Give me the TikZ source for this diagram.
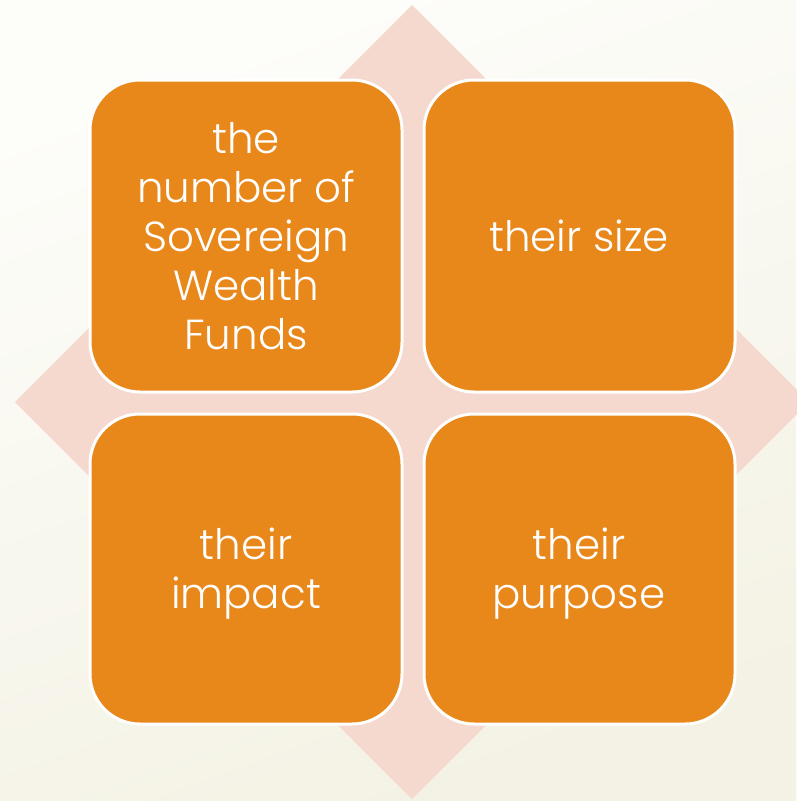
\documentclass[tikz,border=0pt]{standalone}
\usepackage{fontspec}
\setmainfont{Poppins Light}
\begin{document}
\begin{tikzpicture}[x=1pt,y=-1pt,
  tile/.style={fill=tileorange,draw=white,line width=3pt,rounded corners=50pt},
  tiletext/.style={text=white,align=center,font=\fontsize{42}{49}\selectfont}]
\definecolor{tileorange}{HTML}{E8871A}
\definecolor{diamondpink}{HTML}{F5D8CE}
\definecolor{bgtop}{HTML}{FDFDFA}
\definecolor{bgbottom}{HTML}{F4F2E4}
% page background
\shade[top color=bgtop,bottom color=bgbottom,shading angle=20] (0,0) rectangle (796,801);
\useasboundingbox (0,0) rectangle (796,801);
% diamond behind the tiles
\fill[diamondpink] (412,5) -- (809,402) -- (412,799) -- (15,402) -- cycle;
% four tiles
\draw[tile] (90,80) rectangle (402,392);
\draw[tile] (424,80) rectangle (735,392);
\draw[tile] (90,414) rectangle (402,724);
\draw[tile] (424,414) rectangle (735,724);
\node[tiletext] (t1) at (246,236) {the\\number of\\Sovereign\\Wealth\\Funds};
\node[tiletext] (t2) at (579,236) {their size};
\node[tiletext] (t3) at (246,574) {their\\impact};
\node[tiletext] (t4) at (579,574) {their\\purpose};
\end{tikzpicture}
\end{document}
